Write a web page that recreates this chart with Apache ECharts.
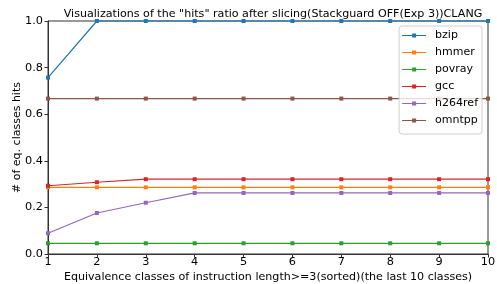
<!DOCTYPE html>
<html>
<head>
<meta charset="utf-8">
<script src="https://cdn.jsdelivr.net/npm/echarts@6/dist/echarts.min.js"></script>
<style>
  html, body { margin: 0; padding: 0; background: #fff; }
  #main { width: 497px; height: 284px; }
</style>
</head>
<body>
<div id="main"></div>
<script>
// x positions (equivalence classes)
const classes = [1, 2, 3, 4, 5, 6, 7, 8, 9, 10]
// ratio values
const bzip = [0.757, 1, 1, 1, 1, 1, 1, 1, 1, 1]
const hmmer = [0.286, 0.286, 0.286, 0.286, 0.286, 0.286, 0.286, 0.286, 0.286, 0.286]
const povray = [0.046, 0.046, 0.046, 0.046, 0.046, 0.046, 0.046, 0.046, 0.046, 0.046]
const gcc = [0.293, 0.308, 0.321, 0.321, 0.321, 0.321, 0.321, 0.321, 0.321, 0.321]
const h264ref = [0.089, 0.176, 0.22, 0.262, 0.262, 0.262, 0.262, 0.262, 0.262, 0.262]
const omntpp = [0.667, 0.667, 0.667, 0.667, 0.667, 0.667, 0.667, 0.667, 0.667, 0.667]
const yTicks = [0.0, 0.2, 0.4, 0.6, 0.8, 1.0]

const names = ['bzip', 'hmmer', 'povray', 'gcc', 'h264ref', 'omntpp']
const values = [bzip, hmmer, povray, gcc, h264ref, omntpp]
const colors = ['#1f77b4', '#ff7f0e', '#2ca02c', '#d62728', '#9467bd', '#8c564b']

const font = 'DejaVu Sans'
const chart = echarts.init(document.getElementById('main'))

const series = names.map((name, i) => ({
  name: name,
  type: 'line',
  data: classes.map((c, j) => [c, values[i][j]]),
  symbol: 'rect',
  symbolSize: 4,
  showSymbol: true,
  clip: false,
  lineStyle: { width: 1.2, color: colors[i] },
  itemStyle: { color: colors[i] },
  emphasis: { disabled: true }
}))

// legend icon: short line with a square marker in the middle
const legendIcon = 'path://M0,1.4 L24,1.4 L24,2.6 L0,2.6 Z M10,0 L14,0 L14,4 L10,4 Z'

chart.setOption({
  animation: false,
  textStyle: { fontFamily: font },
  title: {
    text: 'Visualizations of the "hits" ratio after slicing(Stackguard OFF(Exp 3))CLANG',
    left: 268,
    textAlign: 'center',
    top: 4,
    textStyle: { fontFamily: font, fontSize: 11.1, fontWeight: 'normal', color: '#000' }
  },
  legend: {
    orient: 'vertical',
    right: 15,
    top: 26,
    itemWidth: 24,
    itemHeight: 4,
    itemGap: 4,
    padding: [3, 4, 7, 3],
    backgroundColor: 'rgba(255,255,255,0.8)',
    borderColor: '#d0d0d0',
    borderWidth: 1,
    borderRadius: 3,
    textStyle: { fontFamily: font, fontSize: 11, color: '#000', padding: [0, 0, 0, 4], lineHeight: 13 },
    data: names.map(n => ({ name: n, icon: legendIcon }))
  },
  grid: {
    left: 48, right: 9, top: 21, bottom: 30,
    outerBoundsMode: 'none',
    containLabel: false,
    show: true, borderColor: '#333', borderWidth: 1, backgroundColor: 'transparent'
  },
  xAxis: {
    type: 'value',
    min: 1, max: 10, interval: 1,
    name: 'Equivalence classes of instruction length>=3(sorted)(the last 10 classes)',
    nameLocation: 'middle',
    nameGap: 18,
    nameMoveOverlap: false,
    nameTextStyle: { fontFamily: font, fontSize: 11.1, color: '#000' },
    axisLine: { show: true, lineStyle: { color: '#333' } },
    axisTick: { show: true, length: 3.5, lineStyle: { color: '#333' } },
    axisLabel: { fontFamily: font, fontSize: 11.3, color: '#000', margin: 3 },
    splitLine: { show: false }
  },
  yAxis: {
    type: 'value',
    min: 0, max: 1, interval: 0.2,
    name: '# of eq. classes hits',
    nameLocation: 'middle',
    nameGap: 25,
    nameMoveOverlap: false,
    nameTextStyle: { fontFamily: font, fontSize: 11, color: '#000' },
    axisLine: { show: true, lineStyle: { color: '#333' } },
    axisTick: { show: true, length: 3.5, lineStyle: { color: '#333' } },
    axisLabel: {
      fontFamily: font, fontSize: 11.3, color: '#000', margin: 5,
      formatter: v => {
        const t = yTicks.find(k => Math.abs(k - v) < 1e-9)
        return (t !== undefined ? t : v).toFixed(1)
      }
    },
    splitLine: { show: false }
  },
  series: series
})
</script>
</body>
</html>
